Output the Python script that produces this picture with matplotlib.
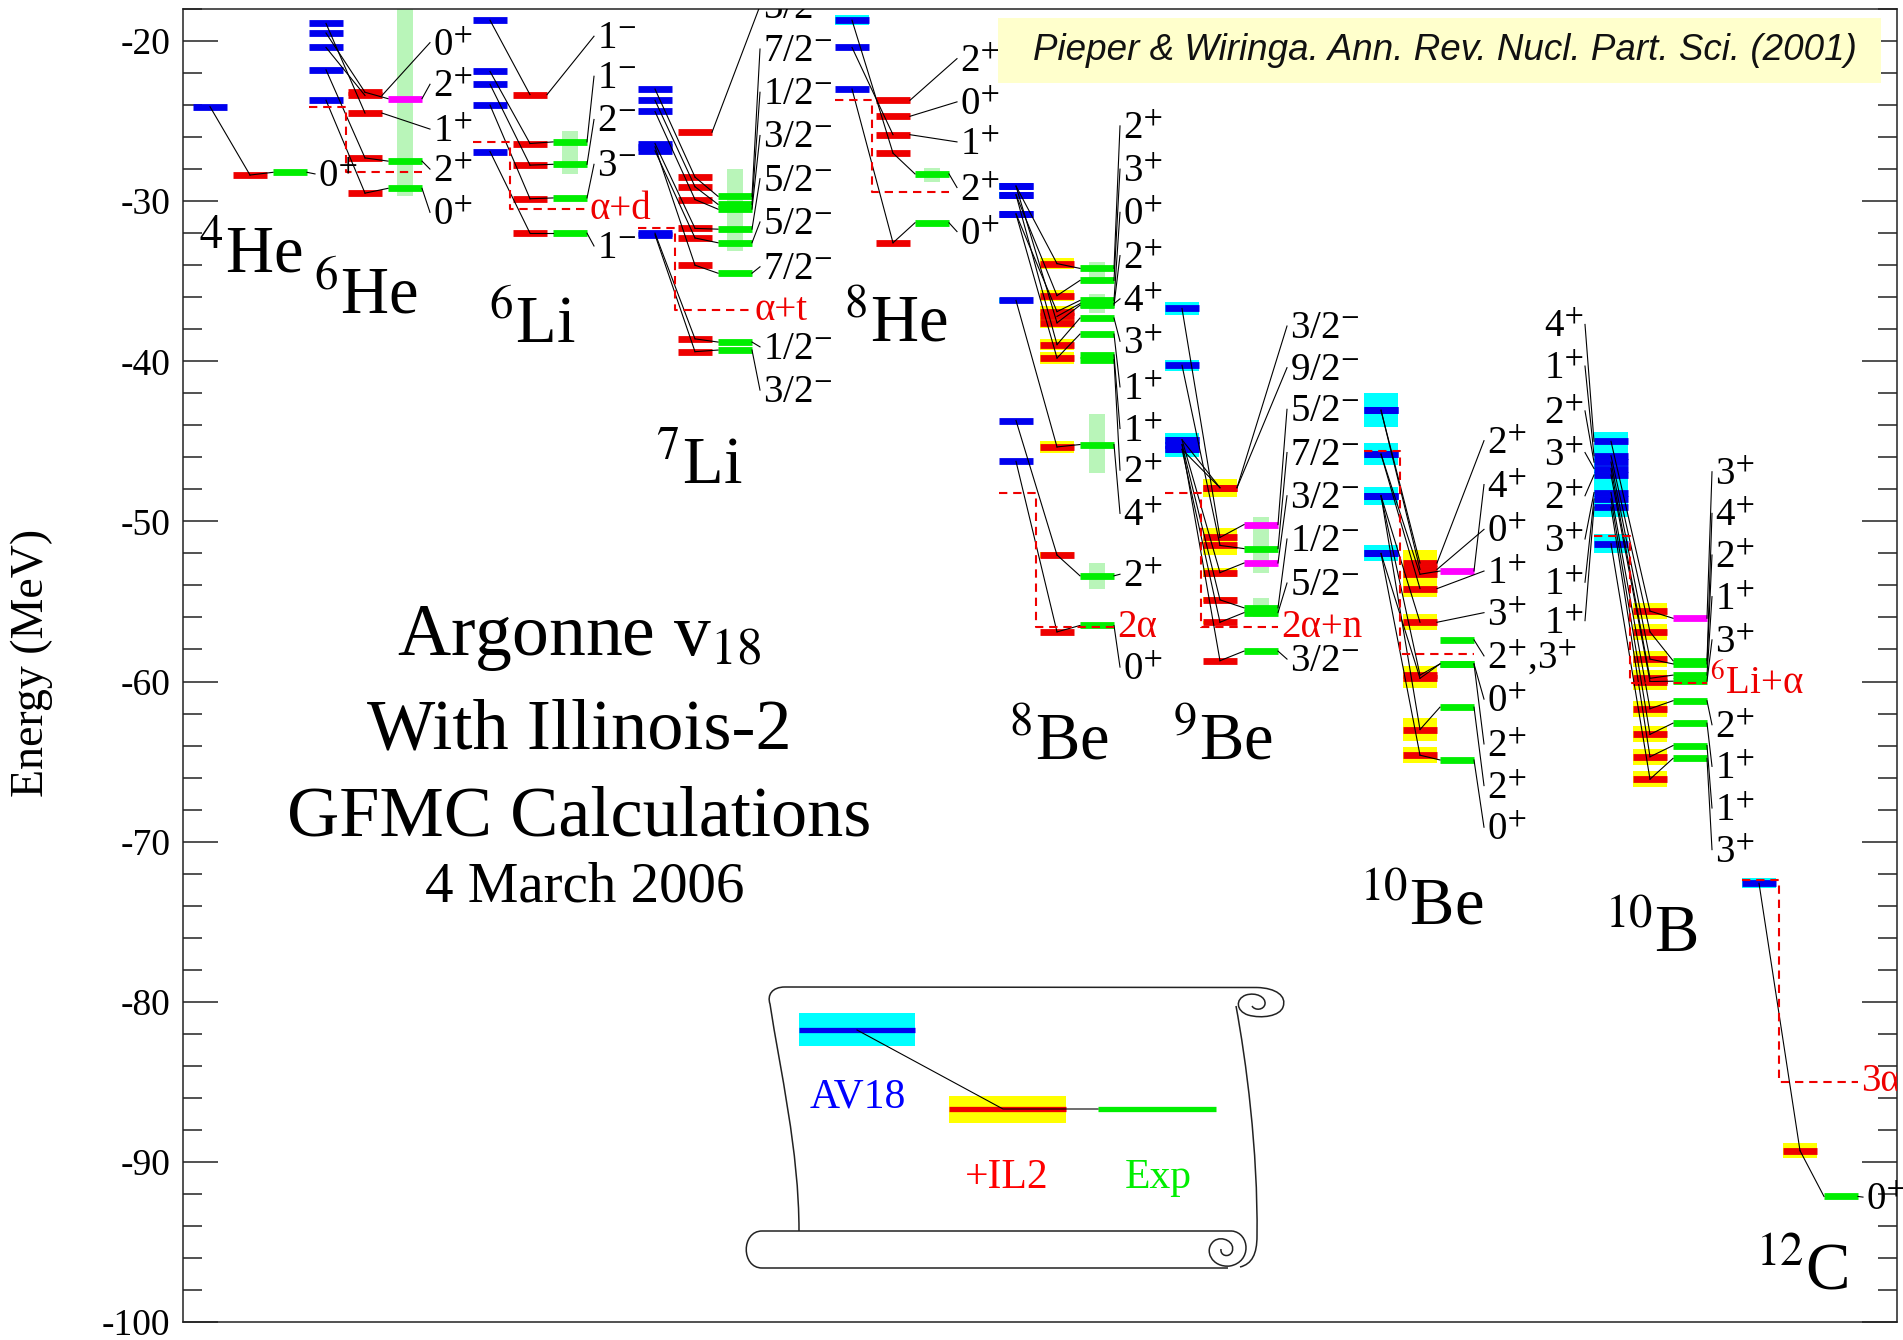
import matplotlib
matplotlib.use("Agg")
import matplotlib.pyplot as plt
import matplotlib.transforms as mtransforms
from matplotlib.path import Path
from matplotlib.patches import PathPatch, Rectangle
from matplotlib.lines import Line2D

plt.rcParams['font.family'] = ['Liberation Serif', 'DejaVu Serif']
plt.rcParams['mathtext.fontset'] = 'stix'
plt.rcParams['axes.unicode_minus'] = False

# ---------------- data (energies in MeV, one entry per state, None = no level) -------------
he4_av = [-24.1]
he4_il = [-28.37]
he4_ex = [-28.2]
he4_jp = ['0+']
he4_jp_e = [-28.3]

he6_av = [-19.5, -18.9, -20.4, -21.8, -23.7]
he6_il = [-23.2, -24.5, -23.4, -27.3, -29.5]
he6_ex = [-23.6, None, None, -27.5, -29.2]
he6_jp = ['2+', '1+', '0+', '2+', '0+']
he6_jp_e = [-22.7, -25.5, -20.1, -28.0, -30.7]
he6_tent = [0]
he6_bands = [(-29.7, -18.0)]
he6_thr = (-24.1, -28.2, '')

li6_av = [-18.7, -21.9, -22.7, -24.0, -26.9]
li6_il = [-23.35, -26.4, -27.75, -29.85, -32.0]
li6_ex = [None, -26.3, -27.7, -29.8, -32.0]
li6_jp = ['1-', '1-', '2-', '3-', '1-']
li6_jp_e = [-19.7, -22.2, -24.9, -27.7, -32.8]
li6_bands = [(-28.3, -25.6)]
li6_thr = (-26.3, -30.5, 'α+d')

li7_av = [None, -23.0, -23.7, -24.4, -26.4, -26.85, -26.6, -32.0, -32.1]
li7_il = [-25.7, -28.5, -29.1, -29.9, -31.7, -32.3, -34.0, -38.6, -39.4]
li7_ex = [None, -29.7, -30.2, -30.5, -31.75, -32.6, -34.5, -38.8, -39.3]
li7_jp = ['3/2-', '7/2-', '1/2-', '3/2-', '5/2-', '5/2-', '7/2-', '1/2-', '3/2-']
li7_jp_e = [-17.8, -20.5, -23.2, -25.9, -28.6, -31.3, -34.1, -39.1, -41.8]
li7_bands = [(-33.1, -28.0)]
li7_thr = (-31.7, -36.8, 'α+t')

he8_av = [None, None, -20.4, -18.7, -23.0]
he8_av_err = [0, 0, 0, 0.3, 0]
he8_il = [-23.7, -24.7, -25.85, -27.0, -32.6]
he8_ex = [None, None, None, -28.3, -31.35]
he8_jp = ['2+', '0+', '1+', '2+', '0+']
he8_jp_e = [-21.1, -23.8, -26.3, -29.15, -31.9]
he8_bands = [(-28.8, -27.9)]
he8_thr = (-23.7, -29.4, '')

be8_av = [-29.06, -29.6, -30.8, -29.06, None, -29.6, -30.8, None, None, -36.2, -43.7, -46.25]
be8_av_err = [0.2, 0.2, 0, 0.2, 0, 0.2, 0, 0, 0, 0.15, 0, 0]
be8_il = [-33.9, -35.9, -36.9, -37.6, -37.2, -38.96, -39.8, None, None, -45.35, -52.1, -56.9]
be8_il_err = [0.35, 0.35, 0.35, 0.35, 0.35, 0.35, 0.35, 0, 0, 0.35, 0.2, 0]
be8_ex = [-34.2, -34.95, -36.2, -36.5, -36.4, -37.3, -38.3, -39.6, -39.9, -45.2, -53.4, -56.5]
be8_jp = ['2+', '3+', '0+', '2+', '4+', '3+', '1+', '1+', '2+', '4+', '2+', '0+']
be8_jp_e = [-25.3, -28.0, -30.7, -33.4, -36.1, -38.75, -41.6, -44.2, -46.8, -49.5, -53.3, -59.1]
be8_bands = [(-35.2, -33.8), (-37.0, -35.8), (-47.0, -43.3), (-54.2, -52.6)]
be8_thr = (-48.2, -56.6, '2α')

be9_av = [-44.9, -45.5, -36.7, -40.25, -44.9, -45.2, -45.5, -45.2]
be9_av_err = [0.45, 0.45, 0.4, 0.35, 0.45, 0.45, 0.45, 0.45]
be9_il = [-47.9, -47.9, -51.0, -51.5, -53.2, -54.9, -56.3, -58.7]
be9_il_err = [0.57, 0.57, 0.57, 0.57, 0.3, 0.15, 0.1, 0]
be9_ex = [None, None, -50.2, -51.7, -52.6, -55.4, -55.7, -58.1]
be9_jp = ['3/2-', '9/2-', '5/2-', '7/2-', '3/2-', '1/2-', '5/2-', '3/2-']
be9_jp_e = [-37.8, -40.4, -43.0, -45.7, -48.4, -51.1, -53.85, -58.6]
be9_tent = [2, 4]
be9_bands = [(-53.2, -49.7), (-56.0, -54.8)]
be9_thr = (-48.2, -56.6, '2α+n')

be10_av = [-43.06, -45.8, -43.06, -45.8, -48.4, None, -48.4, -52.0, -48.4, -52.0]
be10_av_err = [1.05, 0.7, 1.05, 0.7, 0.55, 0, 0.55, 0.5, 0.55, 0.5]
be10_il = [-52.6, -53.3, -53.0, -54.2, -56.3, None, -59.6, -59.8, -63.0, -64.6]
be10_il_err = [0.8, 0.8, 0.8, 0.5, 0.5, 0, 0.6, 0.6, 0.7, 0.5]
be10_ex = [None, -53.1, None, None, None, -57.4, -58.9, -58.9, -61.6, -64.9]
be10_jp = ['2+', '4+', '0+', '1+', '3+', '2+,3+', '0+', '2+', '2+', '0+']
be10_jp_e = [-44.96, -47.7, -50.5, -53.1, -55.7, -58.4, -61.1, -63.9, -66.5, -69.1]
be10_tent = [1]
be10_thr = (-45.6, -58.3, '')

b10_av = [-45.0, -45.9, -46.3, -46.7, -47.1, -48.2, -48.6, -49.1, -51.4]
b10_av_err = [0.6] * 9
b10_il = [-55.6, -56.9, -58.6, -59.8, -60.0, -61.7, -63.3, -64.7, -66.1]
b10_il_err = [0.5] * 9
b10_ex = [-56.05, -58.7, -58.9, -59.6, -59.98, -61.2, -62.6, -64.0, -64.8]
b10_jp = ['3+', '4+', '2+', '1+', '3+', '2+', '1+', '1+', '3+']
b10_jp_e = [-46.9, -49.5, -52.1, -54.7, -57.4, -62.7, -65.3, -67.9, -70.5]
b10_tent = [0]
b10_thr = (-50.9, -60.1, '$^{6}$Li+α')
# AV18 spin labels written on the left of the 10B column
b10_av_jp = ['4+', '1+', '2+', '3+', '2+', '3+', '1+', '1+']
b10_av_jp_e = [-37.7, -40.3, -43.1, -45.7, -48.4, -51.1, -53.8, -56.2]

c12_av = [-72.6]
c12_av_err = [0.3]
c12_il = [-89.3]
c12_il_err = [0.45]
c12_ex = [-92.16]
c12_jp = ['0+']
c12_jp_e = [-92.2]
c12_thr = (-72.4, -85.0, '3α')

nuclei = ['$^{4}$He', '$^{6}$He', '$^{6}$Li', '$^{7}$Li', '$^{8}$He',
          '$^{8}$Be', '$^{9}$Be', '$^{10}$Be', '$^{10}$B', '$^{12}$C']

# ---------------- layout (pixels) ----------------
W, H = 1903, 1340
COLS = {  # AV18 x, IL2 x, Exp x, label x
    'he4': (210, 250, 290, 318), 'he6': (326, 365, 405, 433),
    'li6': (490, 530, 570, 597), 'li7': (655, 695, 735, 763),
    'he8': (852, 893, 932, 960), 'be8': (1016, 1057, 1097, 1123),
    'be9': (1182, 1220, 1261, 1290), 'be10': (1381, 1420, 1457, 1487),
    'b10': (1611, 1650, 1690, 1715), 'c12': (1759, 1800, 1841, 1866),
}
NUC_POS = [(198, 272), (313, 313), (488, 343), (655, 483), (843, 341),
           (1008, 759), (1172, 759), (1359, 924), (1604, 952), (1755, 1289)]
HW = 17
BAR_LW = 4.9
BLUE, RED, GREEN = '#0000ee', '#ee0000', '#00ee00'
CYAN, YELLOW, MAGENTA, LGREEN = '#00ffff', '#ffff00', '#ff00ff', '#b9f5b9'
JP_SIZE = 28

fig = plt.figure(figsize=(W / 100, H / 100), dpi=100)
ax = fig.add_axes([183 / W, 18 / H, (1897 - 183) / W, (1322 - 9) / H])
PX = mtransforms.Affine2D().scale(1 / W, -1 / H).translate(0, 1) + fig.transFigure
lab_tr = mtransforms.offset_copy(ax.transData, fig=fig, y=-12, units='dots')


def jp_tex(s):
    return ','.join(p[:-1] + '$^{' + p[-1] + '}$' for p in s.split(','))


def bar(x, e, color, err=0, errcolor=None):
    if err:
        ax.add_patch(Rectangle((x - HW, e - err), 2 * HW, 2 * err, color=errcolor,
                               lw=0, zorder=2))
    ax.plot([x - HW, x + HW], [e, e], color=color, lw=BAR_LW,
            solid_capstyle='butt', zorder=3)


def link(p, q):
    ax.plot([p[0], q[0]], [p[1], q[1]], color='black', lw=0.8, zorder=4)


def draw_nucleus(key, av, il, ex, jp, jp_e, av_err=None, il_err=None,
                 tent=(), bands=(), thr=None, clip=True):
    xb, xr, xg, xl = COLS[key]
    n = len(jp)
    av_err = av_err or [0] * n
    il_err = il_err or [0] * n
    for lo, hi in bands:
        ax.add_patch(Rectangle((xg - 8, lo), 16, hi - lo, color=LGREEN, lw=0, zorder=1))
    for i in range(n):
        a, r, g = av[i], il[i], ex[i]
        if a is not None:
            bar(xb, a, BLUE, av_err[i], CYAN)
        if r is not None:
            bar(xr, r, RED, il_err[i], YELLOW)
        if g is not None:
            bar(xg, g, MAGENTA if i in tent else GREEN)
        if a is not None and r is not None:
            link((xb, a), (xr, r))
        if r is not None and g is not None:
            link((xr, r), (xg - HW, g))
        if g is not None:
            start = (xg + HW, g)
        elif r is not None:
            start = (xr + HW, r)
        else:
            start = (xb + HW, a)
        link(start, (xl - 3, jp_e[i]))
        ax.text(xl, jp_e[i], jp_tex(jp[i]), transform=lab_tr, fontsize=JP_SIZE,
                va='baseline', ha='left', clip_on=clip, zorder=5)
    if thr is not None:
        e_av, e_il, name = thr
        xm = (xb + xr) / 2
        ax.plot([xb - HW, xm, xm, xg + HW], [e_av, e_av, e_il, e_il], color=RED,
                lw=1.5, ls=(0, (4, 2.8)), zorder=4)
        if name:
            ax.text(xg + HW + 3, e_il, name, color=RED, fontsize=28, va='center',
                    ha='left', zorder=5, clip_on=True)


draw_nucleus('he4', he4_av, he4_il, he4_ex, he4_jp, he4_jp_e)
draw_nucleus('he6', he6_av, he6_il, he6_ex, he6_jp, he6_jp_e, tent=he6_tent,
             bands=he6_bands, thr=he6_thr)
draw_nucleus('li6', li6_av, li6_il, li6_ex, li6_jp, li6_jp_e, bands=li6_bands, thr=li6_thr)
draw_nucleus('li7', li7_av, li7_il, li7_ex, li7_jp, li7_jp_e, bands=li7_bands, thr=li7_thr)
draw_nucleus('he8', he8_av, he8_il, he8_ex, he8_jp, he8_jp_e, av_err=he8_av_err,
             bands=he8_bands, thr=he8_thr)
draw_nucleus('be8', be8_av, be8_il, be8_ex, be8_jp, be8_jp_e, av_err=be8_av_err,
             il_err=be8_il_err, bands=be8_bands, thr=be8_thr)
draw_nucleus('be9', be9_av, be9_il, be9_ex, be9_jp, be9_jp_e, av_err=be9_av_err,
             il_err=be9_il_err, tent=be9_tent, bands=be9_bands, thr=be9_thr)
draw_nucleus('be10', be10_av, be10_il, be10_ex, be10_jp, be10_jp_e, av_err=be10_av_err,
             il_err=be10_il_err, tent=be10_tent, thr=be10_thr)
draw_nucleus('b10', b10_av, b10_il, b10_ex, b10_jp, b10_jp_e, av_err=b10_av_err,
             il_err=b10_il_err, tent=b10_tent, thr=b10_thr)
draw_nucleus('c12', c12_av, c12_il, c12_ex, c12_jp, c12_jp_e, av_err=c12_av_err,
             il_err=c12_il_err, thr=c12_thr, clip=False)

# AV18 labels on the left of 10B
xb10 = COLS['b10'][0]
for t, e, a in zip(b10_av_jp, b10_av_jp_e, b10_av):
    link((xb10 - HW - 9, e), (xb10 - HW, a))
    ax.text(xb10 - HW - 11, e, jp_tex(t), transform=lab_tr, fontsize=JP_SIZE,
            va='baseline', ha='right', zorder=5)

# nucleus names
for name, (x, y) in zip(nuclei, NUC_POS):
    fig.text(x, y, name, transform=PX, fontsize=48, ha='left', va='baseline')

# axes styling
ax.set_xlim(183, 1897)
ax.set_ylim(-100, -18)
ax.set_xticks([])
ax.set_yticks(range(-100, -19, 10))
ax.set_yticks(range(-100, -17, 2), minor=True)
ax.tick_params(axis='y', which='both', direction='in', left=True, right=True,
               labelsize=27, pad=9, width=1.1, color='#222222')
ax.tick_params(axis='y', which='major', length=25)
ax.tick_params(axis='y', which='minor', length=13.5)
for s in ax.spines.values():
    s.set_linewidth(1.1)
    s.set_color('#222222')

fig.text(32, 663, 'Energy (MeV)', transform=PX, rotation=90, fontsize=33,
         ha='center', va='center')

# title block
fig.text(579, 655, 'Argonne v$_{18}$', transform=PX, fontsize=53, ha='center', va='baseline')
fig.text(579, 749, 'With Illinois-2', transform=PX, fontsize=52, ha='center', va='baseline')
fig.text(579, 835, 'GFMC Calculations', transform=PX, fontsize=52, ha='center', va='baseline')
fig.text(585, 902, '4 March 2006', transform=PX, fontsize=41, ha='center', va='baseline')

# reference box
fig.add_artist(Rectangle((998, 18), 883, 65, transform=PX, facecolor='#ffffcc',
                         edgecolor='none', zorder=6))
fig.text(1445, 51, 'Pieper & Wiringa. Ann. Rev. Nucl. Part. Sci. (2001)', transform=PX,
         fontsize=26.5, family='Liberation Sans', style='italic', color='#111111',
         ha='center', va='center', zorder=7)

# legend scroll
C4 = Path.CURVE4
segs = [
    [((1257, 987.5), Path.MOVETO), ((785, 987), Path.LINETO),
     ((772, 987), C4), ((767, 995), C4), ((770, 1004), C4),
     ((780, 1070), C4), ((799, 1150), C4), ((799, 1231), C4)],
    [((1257, 987.5), Path.MOVETO),
     ((1276, 988), C4), ((1287, 996), C4), ((1283, 1007), C4),
     ((1280, 1016), C4), ((1262, 1019), C4), ((1248, 1015), C4),
     ((1236, 1011), C4), ((1235, 999), C4), ((1246, 995), C4),
     ((1256, 992), C4), ((1266, 997), C4), ((1265, 1004), C4),
     ((1264, 1010), C4), ((1255, 1011), C4), ((1252, 1006), C4)],
    [((1236, 1006), Path.MOVETO),
     ((1246, 1060), C4), ((1258, 1150), C4), ((1257, 1236), C4),
     ((1257, 1254), C4), ((1252, 1264), C4), ((1240, 1267), C4)],
    [((1232, 1231), Path.MOVETO), ((762, 1231), Path.LINETO),
     ((741, 1231), C4), ((741, 1268), C4), ((762, 1268), C4),
     ((1228, 1268), Path.LINETO)],
    [((1232, 1231), Path.MOVETO),
     ((1250, 1233), C4), ((1252, 1262), C4), ((1230, 1266), C4),
     ((1212, 1268), C4), ((1203, 1250), C4), ((1214, 1241), C4),
     ((1222, 1235), C4), ((1236, 1242), C4), ((1232, 1252), C4),
     ((1229, 1258), C4), ((1220, 1256), C4), ((1221, 1249), C4)],
]
for seg in segs:
    verts = [p for p, c in seg]
    codes = [c for p, c in seg]
    fig.add_artist(PathPatch(Path(verts, codes), transform=PX, fill=False,
                             edgecolor='#222222', lw=1.1))

fig.add_artist(Rectangle((799, 1013), 116, 33, transform=PX, color=CYAN, lw=0))
fig.add_artist(Rectangle((949, 1096), 117, 27, transform=PX, color=YELLOW, lw=0))
for (x0, x1, y, c) in [(799, 915, 1030, BLUE), (949, 1066, 1109, RED), (1098, 1216, 1109, GREEN)]:
    fig.add_artist(Line2D([x0, x1], [y, y], transform=PX, color=c, lw=3.8,
                          solid_capstyle='butt'))
fig.add_artist(Line2D([857, 1003, 1098], [1030, 1109, 1109], transform=PX,
                      color='black', lw=0.8))
fig.text(858, 1108, 'AV18', transform=PX, color='#0000ff', fontsize=30, ha='center', va='baseline')
fig.text(1007, 1188, '+IL2', transform=PX, color='#ff0000', fontsize=30, ha='center', va='baseline')
fig.text(1158, 1188, 'Exp', transform=PX, color='#00ee00', fontsize=30, ha='center', va='baseline')

fig.savefig('out.png', dpi=100)
